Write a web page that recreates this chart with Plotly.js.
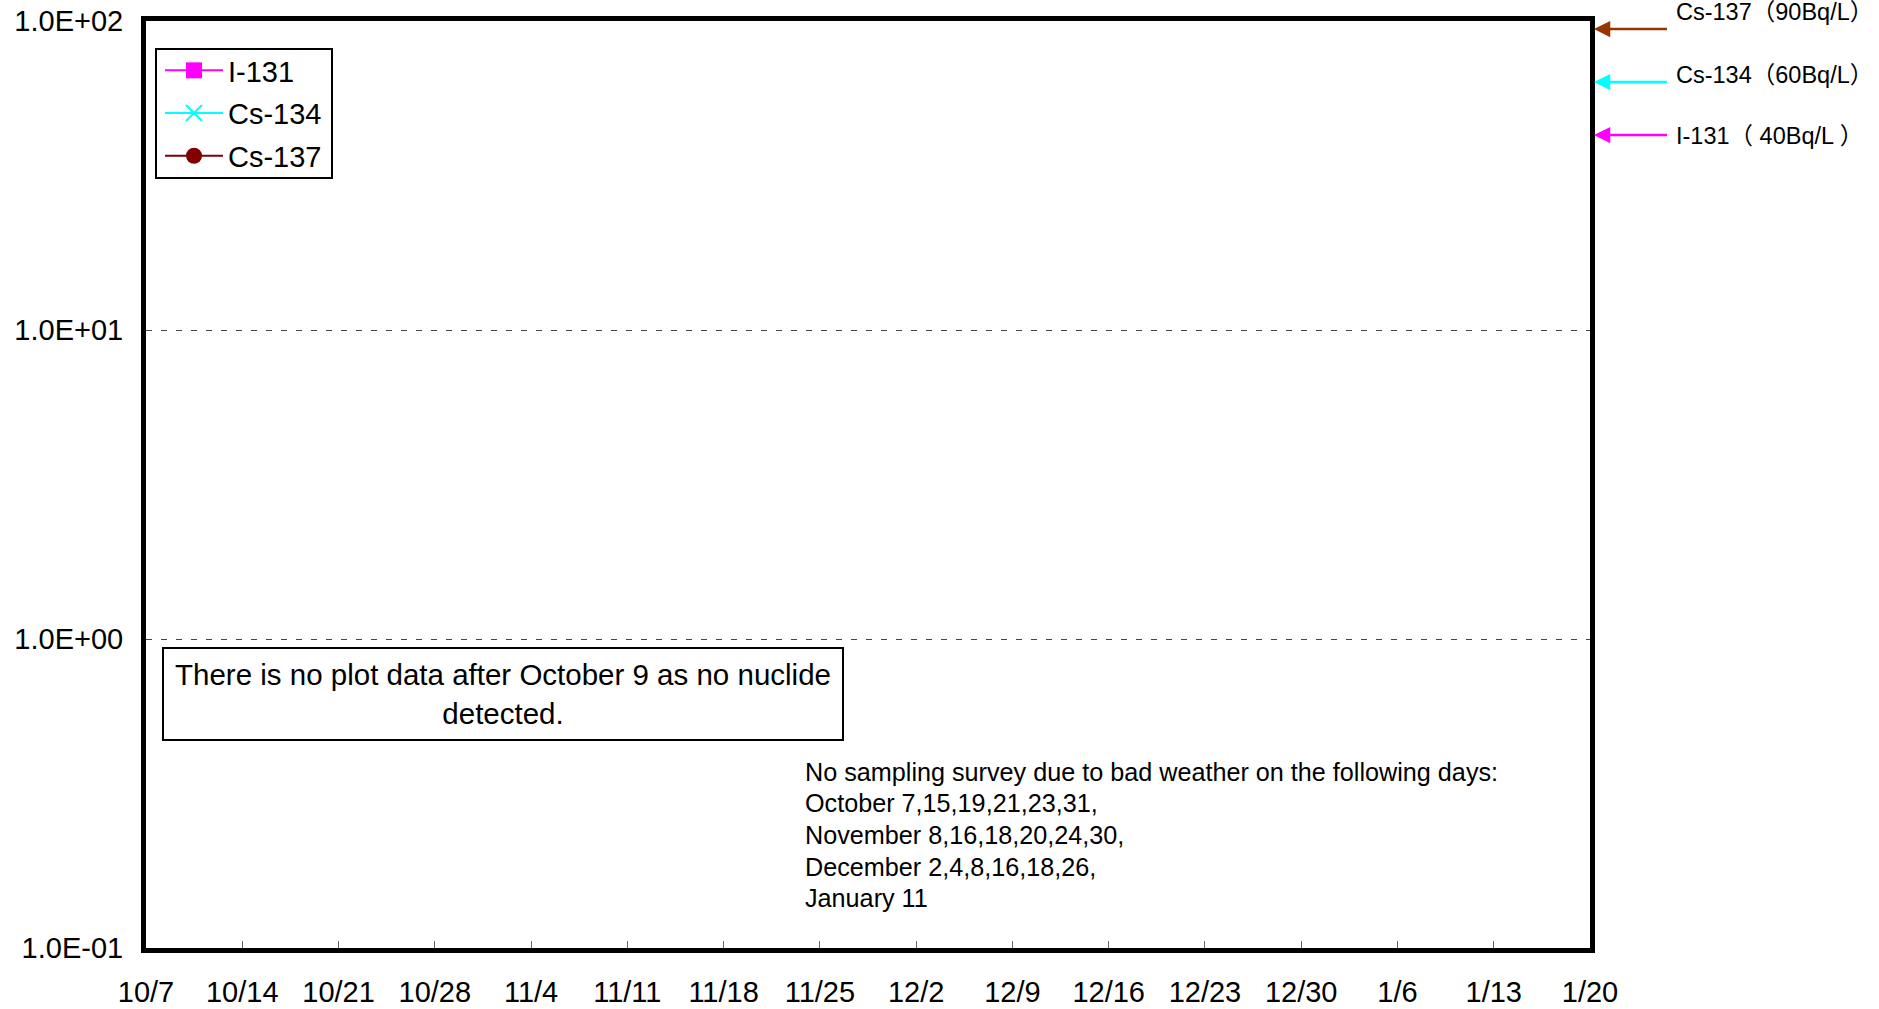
<!DOCTYPE html>
<html>
<head>
<meta charset="utf-8">
<script src="https://cdn.plot.ly/plotly-3.0.1.min.js"></script>
<style>html,body{margin:0;padding:0;background:#fff;}#chart{width:1879px;height:1009px;}</style>
</head>
<body>
<div id="chart"></div>
<script>
// ---- data ----
var tickDates = ['2013-10-07','2013-10-14','2013-10-21','2013-10-28','2013-11-04','2013-11-11','2013-11-18','2013-11-25','2013-12-02','2013-12-09','2013-12-16','2013-12-23','2013-12-30','2014-01-06','2014-01-13','2014-01-20'];
var tickLabels = ['10/7','10/14','10/21','10/28','11/4','11/11','11/18','11/25','12/2','12/9','12/16','12/23','12/30','1/6','1/13','1/20'];
var yTickVals = [0.1, 1, 10, 100];
var yTickLabels = ['1.0E-01','1.0E+00','1.0E+01','1.0E+02'];
// no nuclide detected in the plotted period: values are not detected (null)
var sampleDates = ['2013-10-08','2013-10-09'];
var i131 = [null, null];
var cs134 = [null, null];
var cs137 = [null, null];
var limitNames = ['Cs-137（90Bq/L）','Cs-134（60Bq/L）','I-131（ 40Bq/L ）'];
var limitColors = ['#993300','#00FFFF','#FF00FF'];
var noteLines = ['No sampling survey due to bad weather on the following days:',
                 'October 7,15,19,21,23,31,',
                 'November 8,16,18,20,24,30,',
                 'December 2,4,8,16,18,26,',
                 'January 11'];

var FONT = 'Liberation Sans, Arial, Noto Sans CJK JP, sans-serif';

var traces = [
  {name:'I-131', legendgroup:'a', x:sampleDates, y:i131, type:'scatter', mode:'lines+markers',
   line:{color:'#FF00FF', width:2}, marker:{symbol:'square', size:16, color:'#FF00FF'}},
  {name:'Cs-134', legendgroup:'b', x:sampleDates, y:cs134, type:'scatter', mode:'lines+markers',
   line:{color:'#00FFFF', width:2}, marker:{symbol:'x-thin-open', size:16, color:'#00FFFF', line:{color:'#00FFFF', width:2}}},
  {name:'Cs-137', legendgroup:'c', x:sampleDates, y:cs137, type:'scatter', mode:'lines+markers',
   line:{color:'#800000', width:2}, marker:{symbol:'circle', size:16, color:'#800000'}}
];

// geometry helpers (plot area pixels)
var L = 146, R = 1590, T = 21, B = 948;
function px(x){ return (x - L) / (R - L); }
function py(y){ return (B - y) / (B - T); }

var arrowY = [29, 82, 135];
var textY = [12, 75, 136];
var annotations = [];
for (var k = 0; k < limitNames.length; k++) {
  annotations.push({xref:'paper', yref:'paper', x:px(1594), y:py(arrowY[k]), ax:75, ay:0,
    text:' ', showarrow:true, arrowhead:2, arrowsize:1.25, arrowwidth:2.6, arrowcolor:limitColors[k],
    standoff:0, font:{size:2}});
  annotations.push({xref:'paper', yref:'paper', x:px(1674), y:py(textY[k]), xanchor:'left', yanchor:'middle',
    text:limitNames[k], showarrow:false, font:{family:FONT, size:23.5, color:'#000'}});
}
annotations.push({xref:'paper', yref:'paper', x:px(503), y:py(694), xanchor:'center', yanchor:'middle',
  text:'There is no plot data after October 9 as no nuclide<br>detected.', showarrow:false,
  width:678, height:90, borderpad:0, bordercolor:'#000', borderwidth:2, bgcolor:'#fff',
  font:{family:FONT, size:29.5, color:'#000'}, align:'center'});
var noteY = [772, 803, 835, 867, 898];
for (var n = 0; n < noteLines.length; n++) {
  annotations.push({xref:'paper', yref:'paper', x:px(803), y:py(noteY[n]), xanchor:'left', yanchor:'middle',
    text:noteLines[n], showarrow:false, align:'left', font:{family:FONT, size:25.2, color:'#000'}});
}

var layout = {
  width:1879, height:1009, autosize:false,
  margin:{l:L, r:1879-R, t:T, b:1009-B, pad:0},
  paper_bgcolor:'#fff', plot_bgcolor:'#fff',
  font:{family:FONT, color:'#000'},
  showlegend:true,
  legend:{x:px(160), y:py(45), xanchor:'left', yanchor:'top', bgcolor:'rgba(0,0,0,0)',
    borderwidth:0, font:{family:FONT, size:29, color:'#000'}, itemwidth:58,
    tracegroupgap:2},
  shapes:[{type:'rect', xref:'paper', yref:'paper', x0:px(156), x1:px(332), y0:py(178), y1:py(49),
    line:{color:'#000', width:2}, fillcolor:'rgba(0,0,0,0)', layer:'above'}],
  xaxis:{type:'date', range:['2013-10-07','2014-01-20'], tickmode:'array', tickvals:tickDates, ticktext:tickLabels,
    ticks:'inside', ticklen:7, tickwidth:1, tickcolor:'#666', showgrid:false, zeroline:false,
    showline:true, mirror:true, linecolor:'#000', linewidth:5, ticklabelstandoff:14,
    tickfont:{family:FONT, size:29, color:'#000'}},
  yaxis:{type:'log', range:[-1, 2], tickmode:'array', tickvals:yTickVals, ticktext:yTickLabels,
    ticks:'', showgrid:true, gridcolor:'#444', gridwidth:1, griddash:'6px,9px', zeroline:false,
    showline:true, mirror:true, linecolor:'#000', linewidth:5, ticklabelstandoff:12,
    tickfont:{family:FONT, size:29, color:'#000'}},
  annotations:annotations
};

Plotly.newPlot('chart', traces, layout, {displayModeBar:false, staticPlot:true});
</script>
</body>
</html>
